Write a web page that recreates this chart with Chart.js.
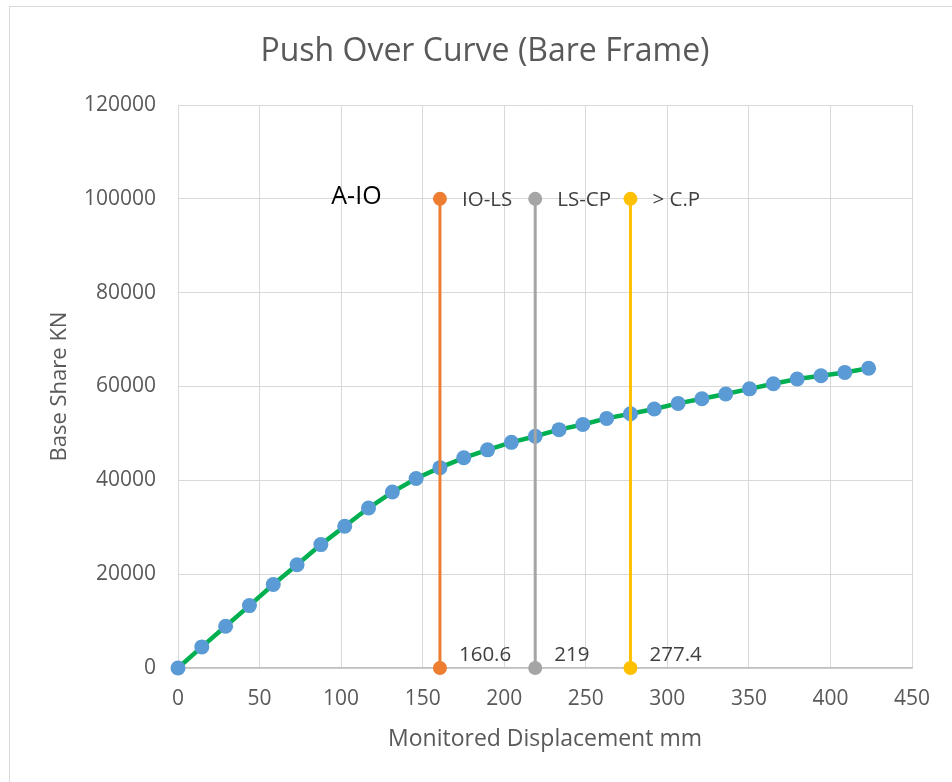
<!DOCTYPE html>
<html>
<head>
<meta charset="utf-8">
<script src="https://cdn.jsdelivr.net/npm/chart.js@4/dist/chart.umd.min.js"></script>
<style>
  html, body { margin: 0; padding: 0; background: #ffffff; }
  #wrap { position: relative; width: 952px; height: 782px; overflow: hidden; }
  #frame { position: absolute; left: 9px; top: 6px; width: 960px; height: 800px;
           border-left: 1px solid #d9d9d9; border-top: 1px solid #d9d9d9; pointer-events: none; }
  canvas { position: absolute; left: 0; top: 0; }
</style>
</head>
<body>
<div id="wrap">
  <canvas id="c" width="952" height="782"></canvas>
  <div id="frame"></div>
</div>
<script>
// ---- data ----
const displacement = [0, 14.6, 29.2, 43.8, 58.4, 73, 87.6, 102.2, 116.8, 131.4, 146, 160.6, 175.2, 189.8, 204.4, 219, 233.6, 248.2, 262.8, 277.4, 292, 306.6, 321.2, 335.8, 350.4, 365, 379.6, 394.2, 408.8, 423.4];
const baseShear = [0, 4500, 8900, 13300, 17800, 22000, 26300, 30200, 34100, 37500, 40400, 42700, 44800, 46500, 48100, 49400, 50800, 51900, 53200, 54200, 55200, 56400, 57400, 58400, 59500, 60600, 61600, 62300, 63000, 63900];

const limitNames = ['IO-LS', 'LS-CP', '> C.P'];
const limitX = [160.6, 219, 277.4];
const limitBottom = [0, 0, 0];
const limitTop = [100000, 100000, 100000];
const limitColors = ['#ed7d31', '#a5a5a5', '#ffc000'];

const zoneLabel = 'A-IO';
const zoneLabelAt = [109.4, 100500];

const xTicks = [0, 50, 100, 150, 200, 250, 300, 350, 400, 450];
const yTicks = [0, 20000, 40000, 60000, 80000, 100000, 120000];

const titleText = 'Push Over Curve (Bare Frame)';
const xTitle = 'Monitored Displacement mm';
const yTitle = 'Base Share KN';

// ---- build chart ----
const FONT = '"Open Sans", Lato, sans-serif';
const curve = displacement.map((x, i) => ({ x: x, y: baseShear[i] }));

const datasets = limitNames.map((name, i) => ({
  label: name,
  data: [{ x: limitX[i], y: limitBottom[i] }, { x: limitX[i], y: limitTop[i] }],
  borderColor: limitColors[i],
  backgroundColor: limitColors[i],
  borderWidth: 3,
  pointRadius: 7,
  pointBorderWidth: 0,
  pointBackgroundColor: limitColors[i],
  clip: false,
  order: 1
}));
datasets.push({
  label: 'Curve',
  data: curve,
  borderColor: '#00b050',
  borderWidth: 4.5,
  pointRadius: 7.5,
  pointBorderWidth: 0,
  pointBackgroundColor: '#5b9bd5',
  tension: 0,
  clip: false,
  order: 2
});

const labelPlugin = {
  id: 'labels',
  afterDatasetsDraw(chart) {
    const ctx = chart.ctx;
    ctx.save();
    ctx.textBaseline = 'middle';
    ctx.textAlign = 'left';
    limitNames.forEach((name, i) => {
      const meta = chart.getDatasetMeta(i);
      const bottom = meta.data[0];
      const top = meta.data[1];
      ctx.fillStyle = '#404040';
      ctx.font = '20.5px ' + FONT;
      ctx.fillText(name, top.x + 22, top.y + 1);
      ctx.fillText(String(limitX[i]), bottom.x + 19, bottom.y - 13);
    });
    const xs = chart.scales.x, ys = chart.scales.y;
    ctx.fillStyle = '#000000';
    ctx.font = '25px ' + FONT;
    ctx.textAlign = 'center';
    ctx.fillText(zoneLabel, xs.getPixelForValue(zoneLabelAt[0]), ys.getPixelForValue(zoneLabelAt[1]));
    ctx.restore();
  }
};

new Chart(document.getElementById('c'), {
  type: 'line',
  data: { datasets: datasets },
  options: {
    responsive: false,
    animation: false,
    devicePixelRatio: 1,
    layout: { padding: { left: 18, right: 0, top: 0, bottom: 0 } },
    plugins: {
      legend: { display: false },
      tooltip: { enabled: false },
      title: {
        display: true,
        text: titleText,
        color: '#595959',
        font: { family: FONT, size: 32, weight: 'normal', lineHeight: 1.2 },
        padding: { top: 33, bottom: 33.6 }
      }
    },
    scales: {
      x: {
        type: 'linear',
        min: 0, max: 450,
        afterBuildTicks(s) { s.ticks = xTicks.map(v => ({ value: v })); },
        afterFit(s) { s.height = 114; s.paddingRight = 40; },
        grid: { color: '#d9d9d9', lineWidth: 1, drawTicks: false },
        border: { color: '#bfbfbf', width: 1.5 },
        ticks: { color: '#595959', font: { family: FONT, size: 21 }, padding: 18, maxRotation: 0 },
        title: { display: true, text: xTitle, color: '#595959',
                 font: { family: FONT, size: 23 }, padding: { top: 0, bottom: 29 } }
      },
      y: {
        type: 'linear',
        min: 0, max: 120000,
        afterBuildTicks(s) { s.ticks = yTicks.map(v => ({ value: v })); },
        afterFit(s) { s.width = 160; },
        grid: { color: '#d9d9d9', lineWidth: 1, drawTicks: false },
        border: { color: '#d9d9d9', width: 1 },
        ticks: { color: '#595959', font: { family: FONT, size: 21 }, padding: 22,
                 callback: v => String(v) },
        title: { display: true, text: yTitle, color: '#595959',
                 font: { family: FONT, size: 22 }, padding: { top: 29, bottom: 0 } }
      }
    }
  },
  plugins: [labelPlugin]
});
</script>
</body>
</html>
